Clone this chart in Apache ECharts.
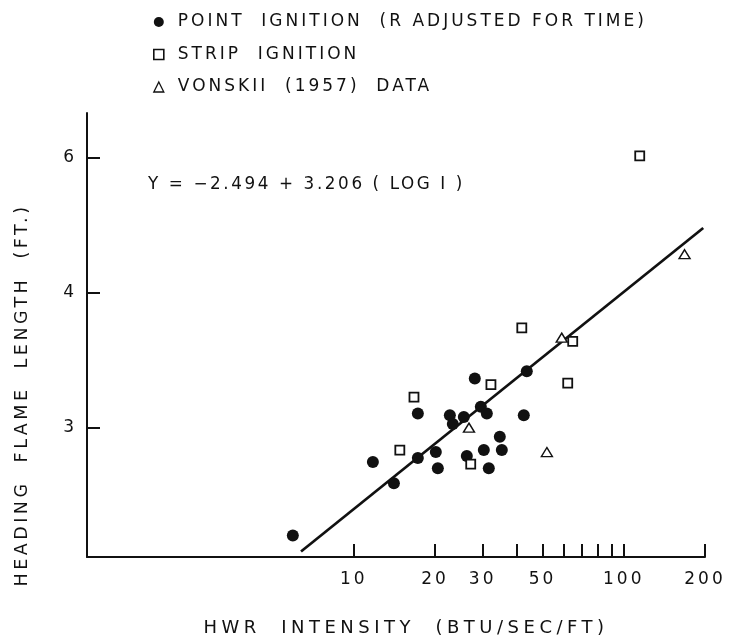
<!DOCTYPE html>
<html><head><meta charset="utf-8">
<script src="https://cdn.jsdelivr.net/npm/echarts@6/dist/echarts.min.js"></script>
<style>html,body{margin:0;padding:0;background:#fff}#c{width:731px;height:639px}</style>
</head><body><div id="c"></div>
<script>
// ---- data ----
const pointI = [5.94, 11.76, 14.07, 17.26, 17.26, 20.12, 20.47, 22.68, 23.26, 25.55, 26.21, 28.06, 29.54, 31.09, 30.30, 34.73, 35.33, 31.62, 43.72, 42.62];
const pointL = [2.50, 2.82, 2.72, 2.84, 3.08, 2.87, 2.79, 3.07, 3.02, 3.06, 2.85, 3.30, 3.12, 3.08, 2.88, 2.95, 2.88, 2.79, 3.35, 3.07];
const stripI = [14.8, 16.7, 27.1, 32.2, 41.9, 64.7, 62.0, 114.6];
const stripL = [2.88, 3.18, 2.81, 3.26, 3.68, 3.57, 3.27, 6.04];
const vonskiiI = [26.7, 51.9, 58.9, 168];
const vonskiiL = [3.00, 2.87, 3.60, 4.42];
const fitI = [6.37, 197];
const fitL = [2.44, 4.76];
const xTickValues = [10, 20, 30, 40, 50, 60, 70, 80, 90, 100, 200];
const xLabelValues = [10, 20, 30, 50, 100, 200];
const yTickValues = [3, 4, 6];
const xRange = [1.026, 200];
const yRange = [2.42, 7.19];
const seriesNames = ['POINT  IGNITION  (R ADJUSTED FOR TIME)', 'STRIP  IGNITION', 'VONSKII  (1957)  DATA'];
const equationText = 'Y = \u22122.494 + 3.206 ( LOG I )';
const xTitle = 'HWR  INTENSITY  (BTU/SEC/FT)';
const yTitle = 'HEADING  FLAME  LENGTH  (FT.)';

// letter tracking (px) by font size, imitating lettering-guide text
const TRACKS = { '17': 3, '16.8': 2.6, '17.5': 3.5, '18': 4.5 };
(function () {
  const p = CanvasRenderingContext2D.prototype;
  const f = p.fillText, m = p.measureText;
  const setT = ctx => {
    try {
      const r = /([\d.]+)px/.exec(ctx.font);
      const t = r ? TRACKS[String(parseFloat(r[1]))] : 0;
      ctx.letterSpacing = (t || 0) + 'px';
    } catch (e) {}
  };
  p.fillText = function () { setT(this); return f.apply(this, arguments); };
  p.measureText = function () { setT(this); return m.apply(this, arguments); };
})();

// axis transforms: log10 for intensity, reciprocal for flame length
const tx = v => Math.log10(v);
const ty = v => -1 / v;
const pairs = (a, b) => a.map((v, i) => [tx(v), ty(b[i])]);

const FONT = 'DejaVu Sans';
const INK = '#111';

const chart = echarts.init(document.getElementById('c'), null, { renderer: 'canvas' });
chart.setOption({
  animation: false,
  backgroundColor: '#fff',
  grid: { left: 87, right: 26, top: 113, bottom: 82, containLabel: false },
  legend: {
    orient: 'vertical', left: 148, top: 7, itemGap: 12.5,
    itemWidth: 10, itemHeight: 10, symbolKeepAspect: true,
    textStyle: { fontFamily: FONT, fontSize: 17, color: INK, padding: [0, 0, 0, 9] },
    data: [
      { name: seriesNames[0], icon: 'circle', itemStyle: { color: INK, borderWidth: 0 } },
      { name: seriesNames[1], icon: 'rect', itemStyle: { color: '#fff', borderColor: INK, borderWidth: 1.6 } },
      { name: seriesNames[2], icon: 'triangle', itemStyle: { color: '#fff', borderColor: INK, borderWidth: 1.3 } }
    ]
  },
  xAxis: {
    type: 'value', min: tx(xRange[0]), max: tx(xRange[1]),
    splitLine: { show: false },
    axisLine: { show: true, onZero: false, lineStyle: { color: INK, width: 2 } },
    axisTick: { show: true, inside: true, length: 13, customValues: xTickValues.map(tx), lineStyle: { color: INK, width: 2 } },
    axisLabel: { customValues: xLabelValues.map(tx), formatter: v => String(Math.round(Math.pow(10, v))),
      fontFamily: FONT, fontSize: 17, color: INK, margin: 13 }
  },
  yAxis: {
    type: 'value', min: ty(yRange[0]), max: ty(yRange[1]),
    splitLine: { show: false },
    axisLine: { show: true, onZero: false, lineStyle: { color: INK, width: 2 } },
    axisTick: { show: true, inside: true, length: 13, customValues: yTickValues.map(ty), lineStyle: { color: INK, width: 2 } },
    axisLabel: { customValues: yTickValues.map(ty), formatter: v => String(Math.round(-1 / v)),
      fontFamily: FONT, fontSize: 17, color: INK, margin: 10 }
  },
  series: [
    { name: 'fit', type: 'line', data: pairs(fitI, fitL), symbol: 'none', z: 1,
      lineStyle: { color: INK, width: 2.7 }, silent: true },
    { name: seriesNames[0], type: 'scatter', data: pairs(pointI, pointL), symbol: 'circle', symbolSize: 12, z: 3,
      itemStyle: { color: INK, opacity: 1 } },
    { name: seriesNames[1], type: 'scatter', data: pairs(stripI, stripL), symbol: 'rect', symbolSize: 9, z: 3,
      itemStyle: { color: '#fff', borderColor: INK, borderWidth: 1.8, opacity: 1 } },
    { name: seriesNames[2], type: 'scatter', data: pairs(vonskiiI, vonskiiL), symbol: 'triangle', symbolSize: [11, 9], z: 3,
      itemStyle: { color: '#fff', borderColor: INK, borderWidth: 1.4, opacity: 1 } }
  ],
  graphic: [
    { type: 'text', x: 148, y: 185, style: { text: equationText, font: '16.8px "DejaVu Sans"', fill: INK, textAlign: 'left', textVerticalAlign: 'middle' } },
    { type: 'text', x: 406, y: 628, style: { text: xTitle, font: '18px "DejaVu Sans"', fill: INK, textAlign: 'center', textVerticalAlign: 'middle' } },
    { type: 'text', x: 22, y: 395, rotation: Math.PI / 2, style: { text: yTitle, font: '17.5px "DejaVu Sans"', fill: INK, textAlign: 'center', textVerticalAlign: 'middle' } }
  ]
});
</script>
</body></html>
